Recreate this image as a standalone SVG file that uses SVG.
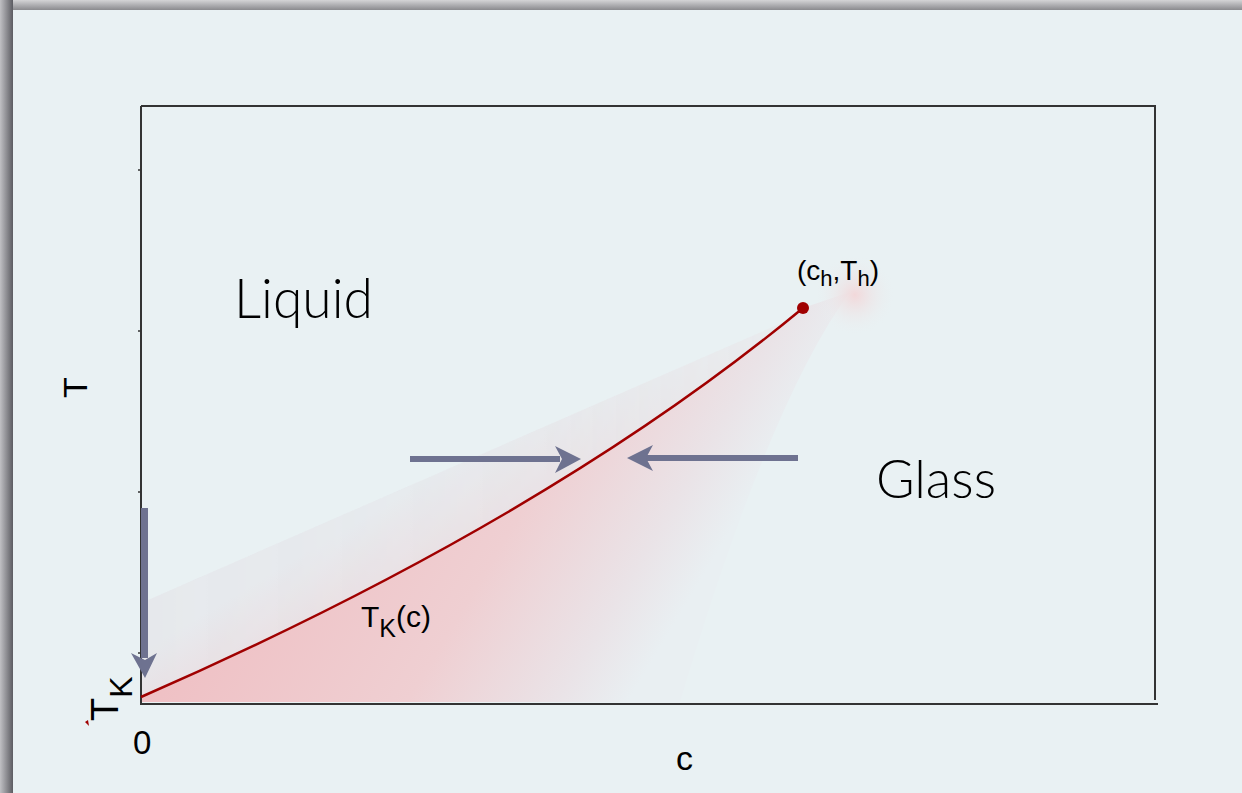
<svg xmlns="http://www.w3.org/2000/svg" width="1242" height="793" viewBox="0 0 1242 793">
<defs>
<style>
.ax{stroke:#333;stroke-width:2;fill:none}
.tick{stroke:#333;stroke-width:1.5}
.lbl{font-family:"Liberation Sans",Arial,sans-serif;fill:#000}
.big{font-family:Lato,"Open Sans",sans-serif;font-weight:300;fill:#000}
.arr{fill:#6e7290}
</style>
<linearGradient id="topSh" x1="0" y1="0" x2="0" y2="1"><stop offset="0" stop-color="#d4d4d6"/><stop offset="1" stop-color="#8a8a8e"/></linearGradient>
<linearGradient id="leftSh" x1="0" y1="0" x2="1" y2="0"><stop offset="0" stop-color="#c0c0c4"/><stop offset="1" stop-color="#5c5c62"/></linearGradient>
<linearGradient id="fan" gradientUnits="userSpaceOnUse" x1="411" y1="247" x2="771" y2="463">
<stop offset="0" stop-color="#efc0c4"/><stop offset="0.55" stop-color="#efcfd2"/><stop offset="0.85" stop-color="#eae3e7"/><stop offset="1" stop-color="#e9eff2"/></linearGradient>
<linearGradient id="band" gradientUnits="userSpaceOnUse" x1="420" y1="620" x2="360" y2="520">
<stop offset="0" stop-color="#ecd3d6"/><stop offset="1" stop-color="#e6e8ec"/></linearGradient>
<linearGradient id="bandFade" gradientUnits="userSpaceOnUse" x1="141" y1="0" x2="820" y2="0">
<stop offset="0" stop-color="#fff"/><stop offset="0.6" stop-color="#fff" stop-opacity="0.75"/><stop offset="1" stop-color="#fff" stop-opacity="0.25"/></linearGradient>
<mask id="bandMask" maskUnits="userSpaceOnUse" x="0" y="0" width="1242" height="793"><rect x="0" y="0" width="1242" height="793" fill="url(#bandFade)"/></mask>
<radialGradient id="glow" cx="855" cy="295" r="40" gradientUnits="userSpaceOnUse"><stop offset="0" stop-color="#f2d8da"/><stop offset="1" stop-color="#e9f0f2" stop-opacity="0"/></radialGradient>
</defs>
<rect x="0" y="0" width="1242" height="793" fill="#e9f1f3"/>
<rect x="0" y="0" width="1242" height="10" fill="url(#topSh)"/>
<rect x="0" y="0" width="13" height="793" fill="url(#leftSh)"/>
<g id="shading">
<path d="M141,603 L800,315 L803,308 Q550,518 141,697 Z" fill="url(#band)" opacity="0.9" mask="url(#bandMask)"/>
<path d="M141,697 Q550,518 803,308 L850,292 Q770,400 680,702 L141,702 Z" fill="url(#fan)"/>
<circle cx="855" cy="295" r="40" fill="url(#glow)"/>
</g>
<g id="axes">
<path class="ax" d="M141,106 H1155 V700"/>
<path class="ax" d="M141,106 V704 H1158"/>
<path class="tick" d="M138,170 H141 M138,331 H141 M138,492 H141 M138,653 H141"/>
</g>
<g id="curve">
<path d="M141,697 Q550,518 803,308" fill="none" stroke="#a00000" stroke-width="2.5"/>
<circle cx="803" cy="308" r="6" fill="#a00000"/>
</g>
<g id="connectors">
<rect class="arr" x="410" y="456" width="150" height="6"/>
<polygon class="arr" points="581,459 555,446 562,459 555,473"/>
<rect class="arr" x="645" y="455" width="153" height="6"/>
<polygon class="arr" points="627,458 653,445 646,458 653,471"/>
<rect class="arr" x="141" y="508" width="7" height="150"/>
<polygon class="arr" points="145,678 131,653 145,660 157,653"/>
</g>
<g id="labels">
<text class="big" x="234" y="318" font-size="55" textLength="139" lengthAdjust="spacingAndGlyphs">Liquid</text>
<text class="big" x="876" y="498" font-size="53" textLength="120" lengthAdjust="spacingAndGlyphs">Glass</text>
<text class="lbl" font-size="34" transform="translate(87,398) rotate(-90)">T</text>
<text class="lbl" x="676" y="770" font-size="34">c</text>
<text class="lbl" x="133" y="754" font-size="33">0</text>
<text class="lbl" font-size="38" transform="translate(118,721) rotate(-90)">T<tspan font-size="32" dy="14">K</tspan></text>
<polygon points="85,722 88,720 89,726" fill="#a00000"/>
<text class="lbl" x="797" y="280" font-size="28">(c<tspan font-size="22" dy="6">h</tspan><tspan dy="-6">,T</tspan><tspan font-size="22" dy="6">h</tspan><tspan dy="-6">)</tspan></text>
<text class="lbl" x="361" y="627" font-size="30">T<tspan font-size="25" dy="10">K</tspan><tspan dy="-10">(c)</tspan></text>
</g>
</svg>
